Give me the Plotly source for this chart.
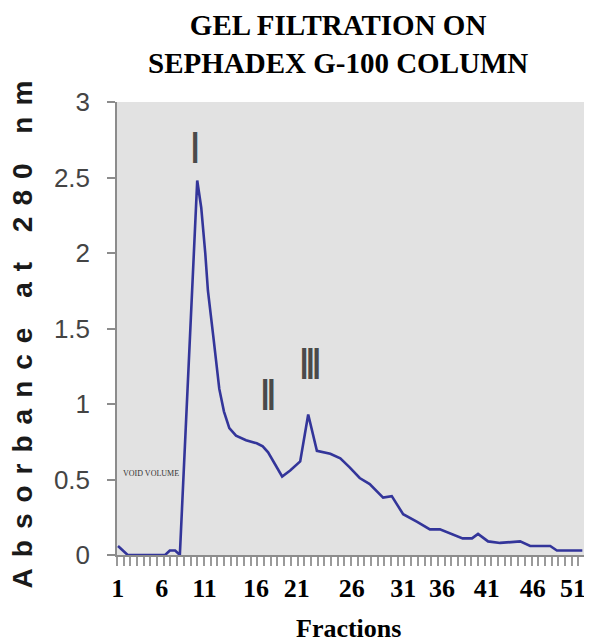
import plotly.graph_objects as go

# Positions along the fraction axis (in tick-mark units, 0..70) and absorbance values
tube_pos = [0.15, 1.6, 7.2, 7.9, 8.7, 9.4, 12.0, 12.6, 13.2, 13.6, 14.4, 15.3, 16.0, 16.8,
            17.8, 19.3, 20.9, 21.8, 22.6, 23.5, 24.7, 25.9, 27.4, 28.6, 29.9, 31.9, 33.4,
            34.8, 36.3, 37.8, 39.8, 41.1, 41.9, 42.8, 44.9, 46.8, 48.3, 50.1, 51.7, 53.1,
            54.0, 55.5, 57.3, 60.3, 61.8, 64.8, 65.8, 69.6]
absorbance = [0.06, 0.0, 0.0, 0.03, 0.03, 0.0, 2.48, 2.30, 2.00, 1.75, 1.45, 1.10, 0.95, 0.84,
              0.79, 0.76, 0.74, 0.72, 0.68, 0.61, 0.52, 0.56, 0.62, 0.93, 0.69, 0.67, 0.64,
              0.58, 0.51, 0.47, 0.38, 0.39, 0.33, 0.27, 0.22, 0.17, 0.17, 0.14, 0.11, 0.11,
              0.14, 0.09, 0.08, 0.09, 0.06, 0.06, 0.03, 0.03]

# Fraction tick labels and where they sit along the axis
frac_labels = ["1", "6", "11", "16", "21", "26", "31", "36", "41", "46", "51"]
frac_label_pos = [0.1, 6.7, 13.1, 20.8, 26.9, 35.1, 42.8, 48.6, 55.3, 62.2, 68.2]

y_ticks = [0, 0.5, 1, 1.5, 2, 2.5, 3]
y_tick_text = ["0", "0.5", "1", "1.5", "2", "2.5", "3"]

# Peak labels
peak_names = ["I", "II", "III"]
peak_x = [11.4, 22.3, 28.6]
peak_y = [2.70, 1.06, 1.27]

fig = go.Figure()
fig.add_trace(go.Scatter(
    x=tube_pos, y=absorbance, mode="lines",
    line=dict(color="#33359a", width=2.6),
    hoverinfo="skip", showlegend=False,
))

for name, px, py in zip(peak_names, peak_x, peak_y):
    fig.add_annotation(
        x=px, y=py, xref="x", yref="y", showarrow=False,
        text=f'<span style="letter-spacing:-6px">{name}</span>',
        font=dict(family="Liberation Sans Narrow, Liberation Sans, Arial, sans-serif", size=44, color="#4a4a4a"),
    )

fig.add_annotation(
    x=5.1, y=0.54, xref="x", yref="y", showarrow=False,
    text="VOID VOLUME",
    font=dict(family="Liberation Serif, Times New Roman, serif", size=8, color="#333333"),
)

# chart title
fig.add_annotation(
    x=0.472, y=1.046, xref="paper", yref="paper", showarrow=False,
    xanchor="center", yanchor="bottom", align="center",
    text="<b>GEL FILTRATION ON<br>SEPHADEX G-100 COLUMN</b>",
    font=dict(family="Liberation Serif, Times New Roman, serif", size=29, color="#000000"),
)

# y-axis title
fig.add_annotation(
    x=-0.201, y=0.5, xref="paper", yref="paper", showarrow=False,
    textangle=-90, xanchor="center", yanchor="middle",
    text='<span style="letter-spacing:11px">Absorbance at 280 nm</span>',
    font=dict(family="Liberation Sans, Arial, sans-serif", size=28, color="#1a1a1a", weight="bold"),
)

# x-axis title
fig.add_annotation(
    x=0.495, y=-0.162, xref="paper", yref="paper", showarrow=False,
    xanchor="center", yanchor="middle",
    text="<b>Fractions</b>",
    font=dict(family="Liberation Serif, Times New Roman, serif", size=26, color="#000000"),
)

fig.update_layout(
    width=584, height=636,
    margin=dict(l=109, r=7, t=94, b=89),
    paper_bgcolor="white",
    plot_bgcolor="#e2e2e2",
    xaxis=dict(
        range=[0, 70],
        showgrid=False, zeroline=False,
        showline=True, linecolor="#8c8c8c", linewidth=1.5,
        tickmode="array", tickvals=frac_label_pos, ticktext=frac_labels,
        ticks="", ticklabelstandoff=9,
        tickfont=dict(family="Liberation Serif, Times New Roman, serif", size=26, color="#000000", weight="bold"),
        minor=dict(ticks="outside", tickmode="linear", tick0=0, dtick=1, ticklen=9,
                   tickwidth=1.6, tickcolor="#9a9a9a", showgrid=False),
    ),
    yaxis=dict(
        range=[0, 3],
        showgrid=False, zeroline=False,
        showline=True, linecolor="#8c8c8c", linewidth=1.5,
        tickmode="array", tickvals=y_ticks, ticktext=y_tick_text,
        ticks="outside", ticklen=8, tickwidth=1.5, tickcolor="#8c8c8c",
        ticklabelstandoff=12,
        tickfont=dict(family="Liberation Sans, Arial, sans-serif", size=26, color="#444444"),
    ),
)

fig.write_html("out.html")
